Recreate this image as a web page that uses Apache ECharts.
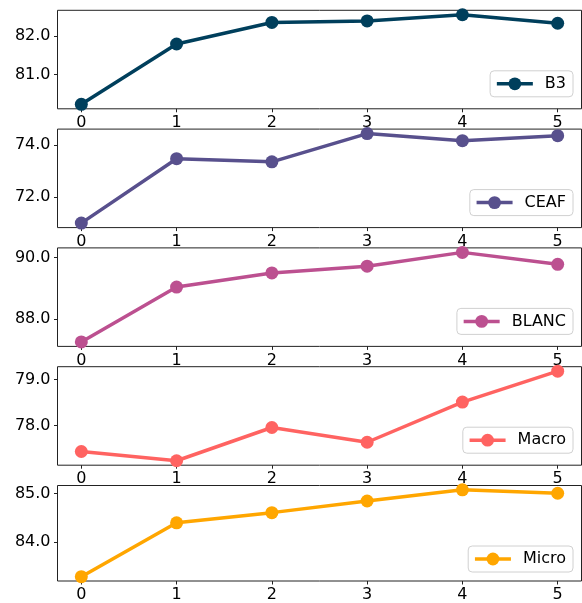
<!DOCTYPE html>
<html>
<head>
<meta charset="utf-8">
<script src="https://cdn.jsdelivr.net/npm/echarts@6/dist/echarts.min.js"></script>
<style>
html,body{margin:0;padding:0;background:#fff;}
#c{width:582px;height:603px;}
</style>
</head>
<body>
<div id="c"></div>
<script>
const xValues = [0, 1, 2, 3, 4, 5];
const names = ['B3', 'CEAF', 'BLANC', 'Macro', 'Micro'];
const colors = ['#003f5c', '#58508d', '#bc5090', '#ff6361', '#ffa600'];
const b3 = [80.23, 81.80, 82.36, 82.40, 82.56, 82.34];
const ceaf = [71.01, 73.47, 73.35, 74.43, 74.16, 74.35];
const blanc = [87.25, 89.04, 89.50, 89.72, 90.17, 89.78];
const macro = [77.44, 77.24, 77.96, 77.64, 78.51, 79.18];
const micro = [83.29, 84.40, 84.61, 84.85, 85.08, 85.01];
const yTicks = [[81, 82], [72, 74], [88, 90], [78, 79], [84, 85]];
const allData = [b3, ceaf, blanc, macro, micro];

const font = 'DejaVu Sans';
const tops = [10.3, 129.1, 247.9, 366.7, 485.5];
const h = 98.5;
const grids = [], xAxes = [], yAxes = [], series = [], legends = [];
allData.forEach((d, i) => {
  grids.push({left: 57.5, width: 524, top: tops[i], height: h, show: true,
    borderColor: '#222', borderWidth: 1, backgroundColor: 'transparent'});
  xAxes.push({type: 'value', gridIndex: i, min: -0.25, max: 5.25,
    axisLine: {show: false, onZero: false}, splitLine: {show: false},
    axisTick: {show: true, length: 3.5, customValues: xValues, lineStyle: {color: '#222'}},
    axisLabel: {customValues: xValues, margin: 6, color: '#000', fontFamily: font, fontSize: 16}});
  const mn = Math.min(...d), mx = Math.max(...d), pad = (mx - mn) * 0.05;
  yAxes.push({type: 'value', gridIndex: i, min: mn - pad, max: mx + pad,
    axisLine: {show: false, onZero: false}, splitLine: {show: false},
    axisTick: {show: true, length: 3.5, customValues: yTicks[i], lineStyle: {color: '#222'}},
    axisLabel: {customValues: yTicks[i], margin: 7, color: '#000', fontFamily: font, fontSize: 16,
      formatter: v => v.toFixed(1)}});
  series.push({type: 'line', name: names[i], xAxisIndex: i, yAxisIndex: i,
    data: xValues.map((x, j) => [x, d[j]]),
    symbol: 'circle', symbolSize: 13, showSymbol: true,
    lineStyle: {width: 3.5, color: colors[i]}, itemStyle: {color: colors[i]},
    emphasis: {disabled: true}, animation: false});
  legends.push({data: [names[i]], right: 9, top: tops[i] + h - 38, orient: 'vertical',
    itemWidth: 36, itemHeight: 16, padding: [5, 7, 5, 5],
    lineStyle: {width: 3.5},
    borderColor: '#d0d0d0', borderWidth: 1, borderRadius: 4, backgroundColor: 'rgba(255,255,255,0.8)',
    textStyle: {fontFamily: font, fontSize: 16, color: '#000', padding: [0, 0, 0, 7]},
    selectedMode: false});
});

const chart = echarts.init(document.getElementById('c'), null, {renderer: 'canvas'});
chart.setOption({animation: false, grid: grids, xAxis: xAxes, yAxis: yAxes, series: series, legend: legends});
</script>
</body>
</html>
